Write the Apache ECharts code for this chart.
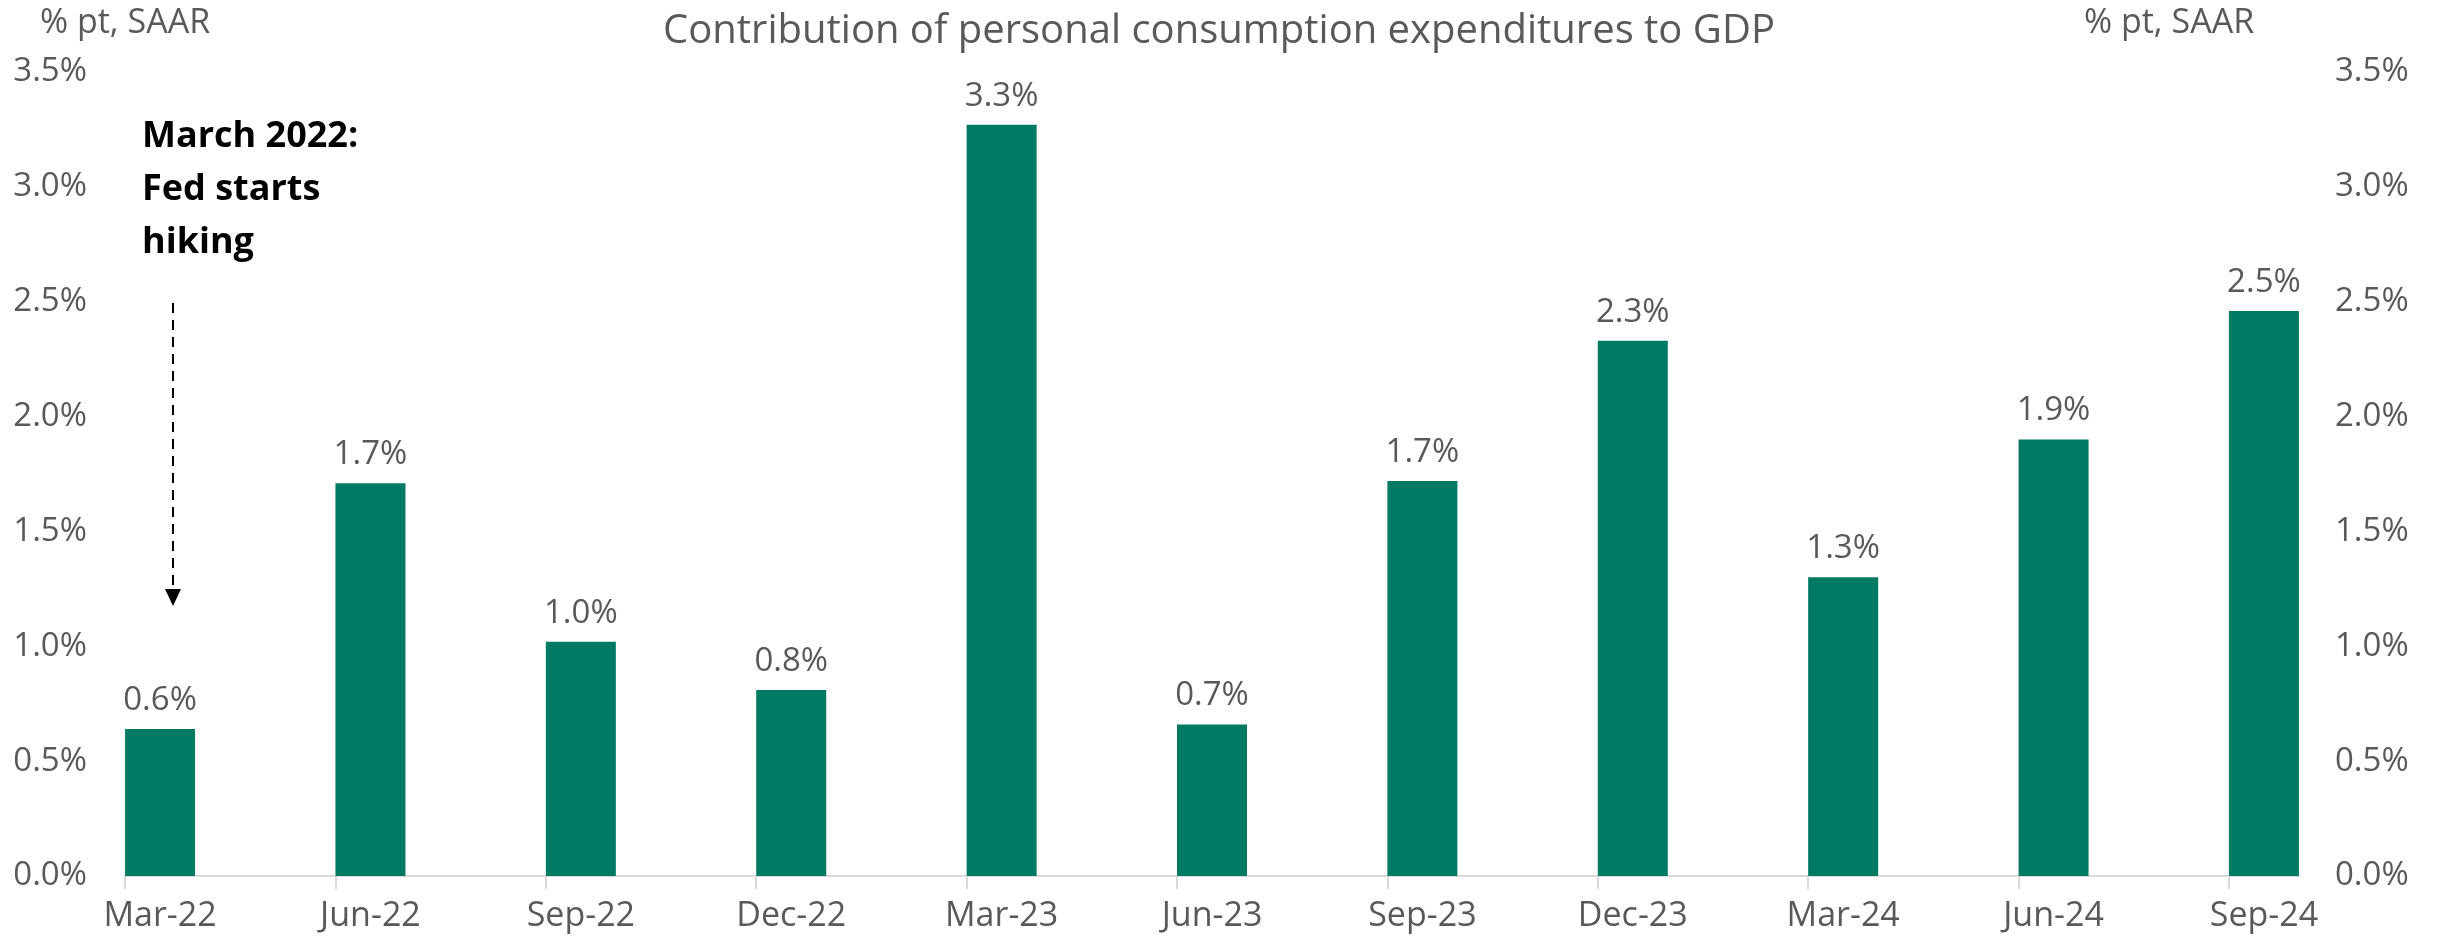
<!DOCTYPE html>
<html lang="en">
<head>
<meta charset="UTF-8">
<title>PCE contribution to GDP</title>
<script src="https://cdn.jsdelivr.net/npm/echarts@6/dist/echarts.min.js"></script>
<style>
    html, body { margin: 0; padding: 0; background: #fff; }
    #main { width: 2438px; height: 949px; }
</style>
</head>
<body>
<div id="main"></div>
<script>
    // quarterly data, % pt SAAR
    var quarters = ['Mar-22', 'Jun-22', 'Sep-22', 'Dec-22', 'Mar-23', 'Jun-23', 'Sep-23', 'Dec-23', 'Mar-24', 'Jun-24', 'Sep-24'];
    var pceContribution = [0.64, 1.71, 1.02, 0.81, 3.27, 0.66, 1.72, 2.33, 1.30, 1.90, 2.46];
    var yMin = 0, yMax = 3.5, yStep = 0.5;

    // each quarter gets 6 half-bar slots on the axis: tick at slot 0, bar centred on slot 1
    var SLOTS = 6;
    var slotNames = [], slotValues = [];
    for (var k = 0; k <= (quarters.length - 1) * SLOTS + 2; k++) {
        slotNames.push('_' + k);
        slotValues.push('-');
    }
    quarters.forEach(function (q, i) {
        slotNames[i * SLOTS + 1] = q;
        slotValues[i * SLOTS + 1] = pceContribution[i];
    });

    var FONT = 'Open Sans';
    var GREY = '#595959';

    var myChart = echarts.init(document.getElementById('main'));

    var pctLabel = function (v) { return v.toFixed(1) + '%'; };

    var option = {
        backgroundColor: '#fff',
        animation: false,
        title: [{
            text: 'Contribution of personal consumption expenditures to GDP',
            left: 'center', top: 12, padding: 0,
            textStyle: { fontFamily: FONT, fontSize: 40, fontWeight: 'normal', color: GREY }
        }, {
            text: '% pt, SAAR',
            left: 40, top: 6, padding: 0,
            textStyle: { fontFamily: FONT, fontSize: 34, fontWeight: 'normal', color: GREY }
        }, {
            text: '% pt, SAAR',
            left: 2084, top: 6, padding: 0,
            textStyle: { fontFamily: FONT, fontSize: 34, fontWeight: 'normal', color: GREY }
        }, {
            text: 'March 2022:\nFed starts\nhiking',
            left: 142, top: 110, padding: 0,
            textStyle: { fontFamily: FONT, fontSize: 36, fontWeight: 'bold', color: '#000', lineHeight: 53 }
        }],
        graphic: [{
            type: 'line',
            shape: { x1: 173, y1: 303, x2: 173, y2: 592 },
            style: { stroke: '#000', lineWidth: 2, lineDash: [10, 7] }
        }, {
            type: 'polygon',
            shape: { points: [[165, 589], [181, 589], [173, 606]] },
            style: { fill: '#000' }
        }],
        grid: { left: 125, right: 139, top: 72, bottom: 73 },
        xAxis: {
            type: 'category',
            boundaryGap: false,
            data: slotNames,
            axisLine: { lineStyle: { color: '#d9d9d9', width: 2 } },
            axisTick: {
                interval: function (idx) { return idx % SLOTS === 0; },
                length: 13,
                lineStyle: { color: '#d9d9d9', width: 2 }
            },
            axisLabel: {
                interval: function (idx) { return idx % SLOTS === 1; },
                formatter: function (name) { return name.charAt(0) === '_' ? '' : name; },
                margin: 23,
                fontFamily: FONT, fontSize: 34, color: GREY
            },
            splitLine: { show: false }
        },
        yAxis: [{
            type: 'value', min: yMin, max: yMax, interval: yStep,
            axisLine: { show: false }, axisTick: { show: false }, splitLine: { show: false },
            axisLabel: { formatter: pctLabel, margin: 38, fontFamily: FONT, fontSize: 33, color: GREY }
        }, {
            type: 'value', position: 'right', min: yMin, max: yMax, interval: yStep,
            axisLine: { show: false }, axisTick: { show: false }, splitLine: { show: false },
            axisLabel: { formatter: pctLabel, margin: 36, fontFamily: FONT, fontSize: 33, color: GREY }
        }],
        series: [{
            name: 'PCE contribution',
            type: 'bar',
            data: slotValues,
            barWidth: 70,
            itemStyle: { color: '#007a63' },
            label: {
                show: true, position: 'top', distance: 12,
                formatter: function (p) { return pctLabel(p.value); },
                fontFamily: FONT, fontSize: 33, color: GREY
            }
        }]
    };

    myChart.setOption(option);
</script>
</body>
</html>
